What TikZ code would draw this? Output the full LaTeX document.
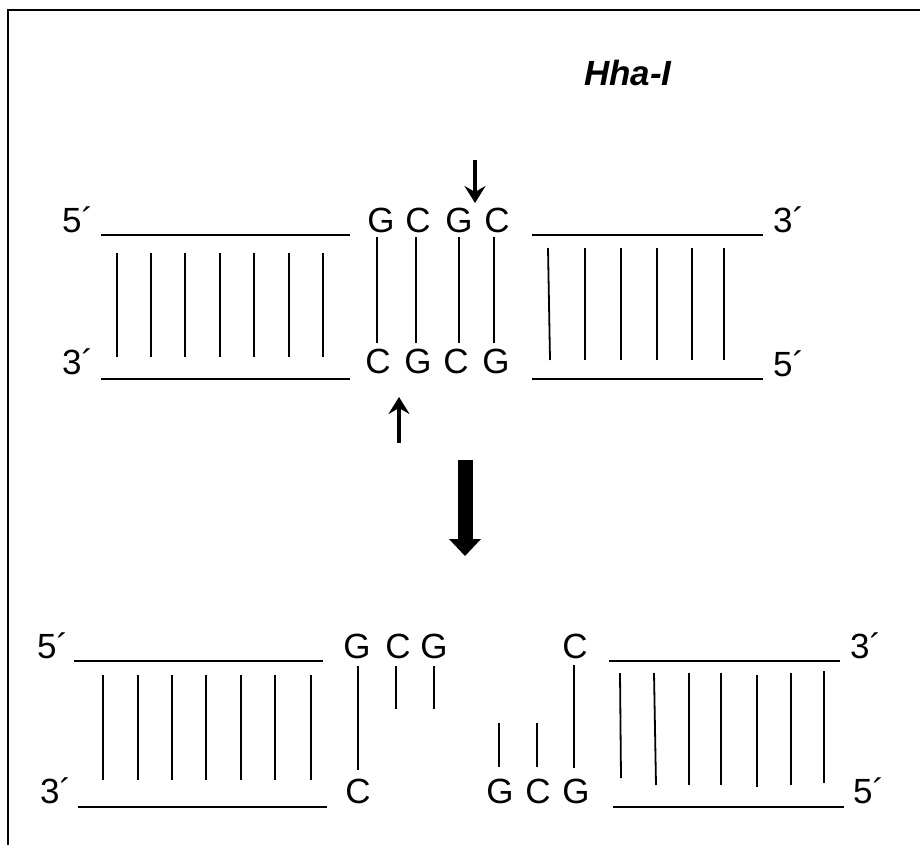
\documentclass[tikz,border=0pt]{standalone}
\usepackage{fontspec}
\setmainfont{Liberation Sans}
\usetikzlibrary{arrows.meta,calc}
\begin{document}
\begin{tikzpicture}[x=1pt,y=-1pt,
  base/.style={font=\fontsize{35}{40}\selectfont, inner sep=0pt, anchor=base},
  lab/.style={font=\fontsize{35}{40}\selectfont, inner sep=0pt, anchor=base west},
  strand/.style={line width=1.4pt},
  rung/.style={line width=1.8pt},
  cut/.style={line width=4pt,-{Stealth[length=17pt,width=21pt,inset=6pt]}},
]
\useasboundingbox (0,0) rectangle (920,845);
\draw[line width=2pt] (8,845) -- (8,10) -- (920,10);

\node[font=\fontsize{35}{40}\selectfont\bfseries\itshape, inner sep=0pt, anchor=base west] (enz) at (584,86) {Hha-I};

% ---------- top duplex ----------
\node[lab] (t5) at (62,232) {5´};
\node[lab] (t3) at (62,374) {3´};
\node[lab] (tr3) at (773,232) {3´};
\node[lab] (tr5) at (773,376) {5´};
\draw[strand] (101,235) -- (350,235);
\draw[strand] (101,379) -- (350,379);
\draw[strand] (532,235) -- (763,235);
\draw[strand] (532,379) -- (763,379);
\foreach \x in {117,151,185,220,254,289,323} \draw[rung] (\x,253) -- (\x,357);
\draw[rung] (548,248) -- (550,360);
\foreach \x in {585,621,657,692,724} \draw[rung] (\x,248) -- (\x,360);

\node[base] (a1) at (381,232) {G};
\node[base] (a2) at (418,232) {C};
\node[base] (a3) at (459,232) {G};
\node[base] (a4) at (497,232) {C};
\node[base] (b1) at (378,373) {C};
\node[base] (b2) at (418,373) {G};
\node[base] (b3) at (456,373) {C};
\node[base] (b4) at (496,373) {G};
\foreach \x in {377,416,459,494} \draw[rung] (\x,237) -- (\x,343);

\coordinate (cuttop) at (475,160);
\coordinate (cuttopend) at (475,203);
\draw[cut] (cuttop) -- (cuttopend);
\coordinate (cutbot) at (399,443);
\coordinate (cutbotend) at (399,397);
\draw[cut] (cutbot) -- (cutbotend);

% ---------- big arrow ----------
\node[fill=black, inner sep=0pt, minimum width=15pt, minimum height=80pt] (shaft) at (465.5,499.5) {};
\fill (449,539) -- (481,539) -- (465,556) -- cycle;

% ---------- bottom: left fragment ----------
\node[lab] (l5) at (37,658) {5´};
\node[lab] (l3) at (40,803) {3´};
\draw[strand] (74,661) -- (323,661);
\draw[strand] (78,807) -- (327,807);
\foreach \x in {103,138,172,206,241,275,311} \draw[rung] (\x,675) -- (\x,780);
\node[base] (c1) at (357,658) {G};
\node[base] (c2) at (398,658) {C};
\node[base] (c3) at (434,658) {G};
\node[base] (d1) at (358,803) {C};
\draw[rung] (358,666) -- (358,770);
\draw[rung] (396,666) -- (396,709);
\draw[rung] (434,666) -- (434,709);

% ---------- bottom: right fragment ----------
\node[base] (e1) at (575,658) {C};
\node[base] (f1) at (500,803) {G};
\node[base] (f2) at (538,803) {C};
\node[base] (f3) at (576,803) {G};
\draw[rung] (574,665) -- (574,768);
\draw[rung] (499,723) -- (499,767);
\draw[rung] (537,723) -- (537,767);
\node[lab] (r3) at (850,658) {3´};
\node[lab] (r5) at (853,803) {5´};
\draw[strand] (609,661) -- (840,661);
\draw[strand] (613,807) -- (844,807);
\draw[rung] (620,673) -- (621,778);
\draw[rung] (654,673) -- (656,785);
\draw[rung] (689,673) -- (689,785);
\draw[rung] (721,673) -- (721,785);
\draw[rung] (757,675) -- (757,787);
\draw[rung] (791,673) -- (791,785);
\draw[rung] (824,671) -- (824,783);
\end{tikzpicture}
\end{document}
